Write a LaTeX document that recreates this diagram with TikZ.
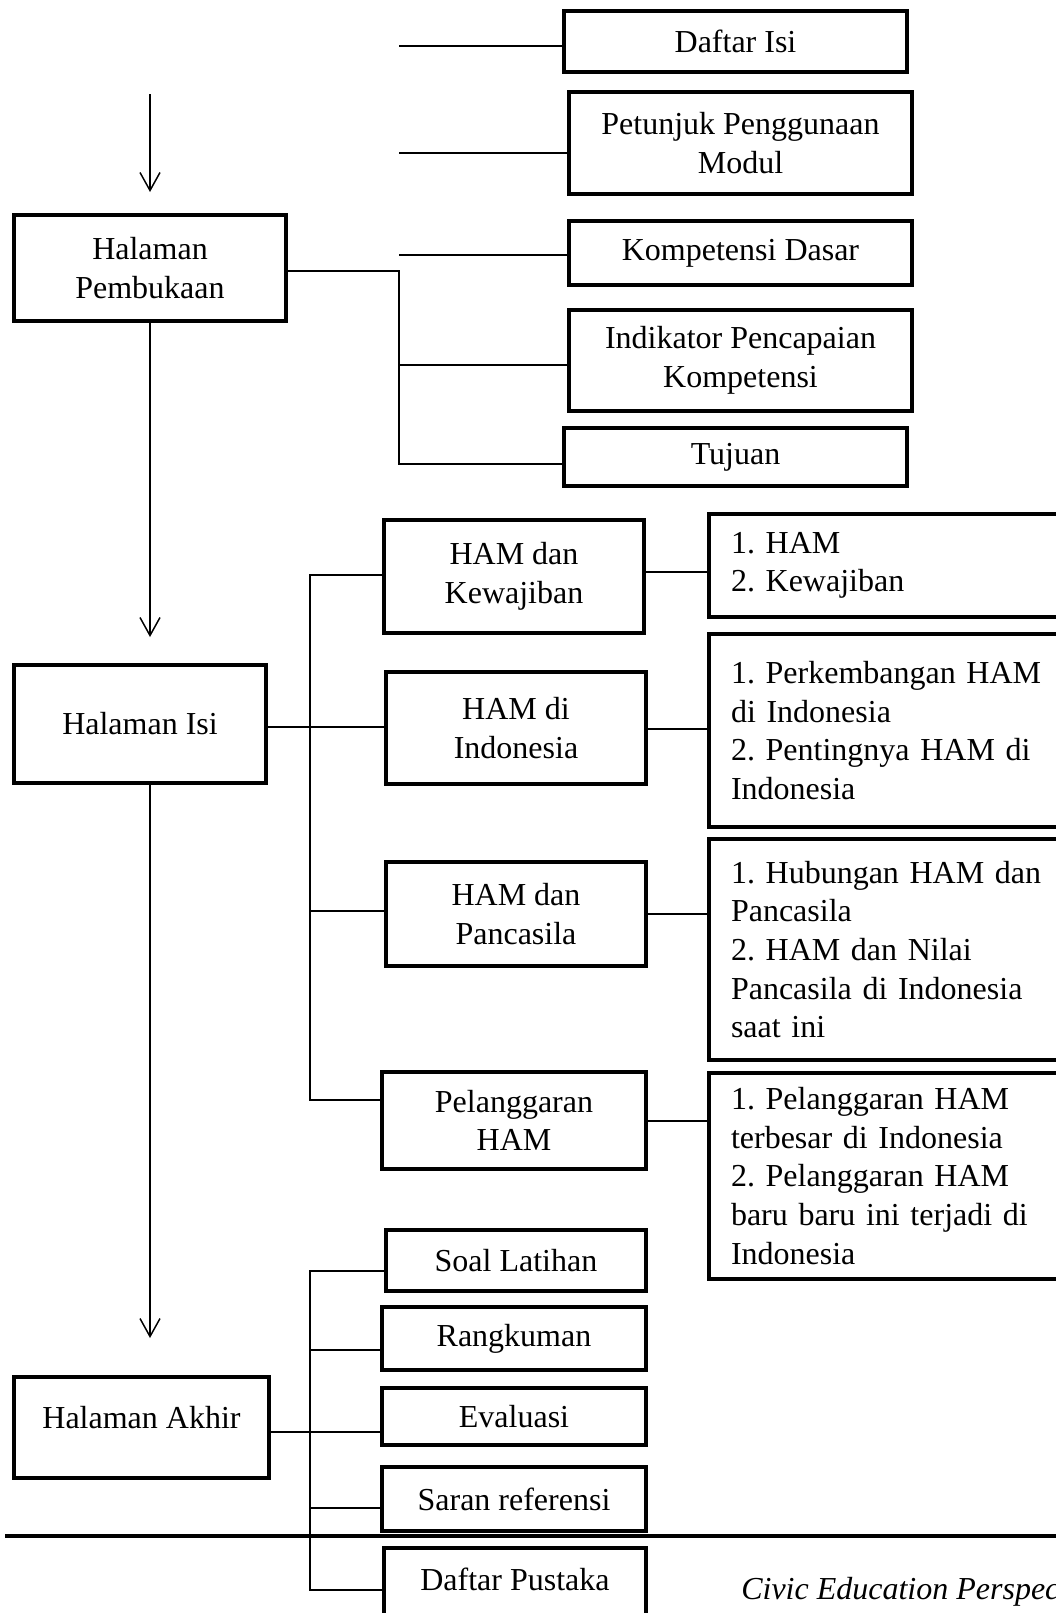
\documentclass[tikz,border=0pt]{standalone}
\usepackage{fontspec}
\setmainfont{Liberation Serif}
\usetikzlibrary{arrows.meta}
\begin{document}
\frenchspacing
\begin{tikzpicture}[x=0.75pt,y=-0.75pt,
  txt/.style={font=\fontsize{24pt}{29pt}\selectfont\frenchspacing},
  box/.style={txt, draw, line width=3pt, align=center, inner sep=0pt},
  sz/.style 2 args={minimum width=#1*0.75pt, minimum height=#2*0.75pt},
  lst/.style={txt, draw, line width=3pt, align=left, anchor=west, inner xsep=16.5pt, inner ysep=0pt, text width=243pt},
  conn/.style={line width=1.1pt},
  arr/.style={conn, -{Straight Barb[length=13.5pt,width=15pt]}}]
\clip (0,0) rectangle (1056,1613);
\fill[white] (0,0) rectangle (1056,1613);

% top group
\node[box, sz={343}{61}]  (daftar) at (735.5,41.5) {Daftar Isi};
\node[box, sz={343}{102}] (petunjuk) at (740.5,143) {Petunjuk Penggunaan\\Modul};
\node[box, sz={343}{64}]  (kd) at (740.5,253) {Kompetensi Dasar};
\node[box, sz={343}{101}] (indikator) at (740.5,360.5) {Indikator Pencapaian\\Kompetensi};
\node[box, sz={343}{58}]  (tujuan) at (735.5,457) {Tujuan};

% main column
\node[box, sz={272}{106}] (pemb) at (150,268) {Halaman\\Pembukaan};
\node[box, sz={252}{118}] (isi) at (140,724) {Halaman Isi};
\node[box, sz={255}{101}] (akhir) at (141.5,1427.5) {\raisebox{15pt}{Halaman Akhir}};

% isi group
\node[box, sz={260}{113}] (kew) at (514,576.5) {HAM dan\\Kewajiban};
\node[box, sz={260}{112}] (indo) at (516,728) {HAM di\\Indonesia};
\node[box, sz={260}{104}] (panc) at (516,914) {HAM dan\\Pancasila};
\node[box, sz={264}{97}]  (pel) at (514,1120.5) {Pelanggaran\\HAM};

\node[lst, minimum height=103*0.75pt] (l1) at (707,565.5) {1. HAM\\2. Kewajiban};
\node[lst, minimum height=193*0.75pt] (l2) at (707,730.5) {1. Perkembangan HAM\\di Indonesia\\2. Pentingnya HAM di\\Indonesia};
\node[lst, minimum height=221*0.75pt] (l3) at (707,949.5) {1. Hubungan HAM dan\\Pancasila\\2. HAM dan Nilai\\Pancasila di Indonesia\\saat ini};
\node[lst, minimum height=206*0.75pt] (l4) at (707,1176) {1. Pelanggaran HAM\\terbesar di Indonesia\\2. Pelanggaran HAM\\baru baru ini terjadi di\\Indonesia};

% akhir group
\node[box, sz={260}{61}] (soal) at (516,1260.5) {Soal Latihan};
\node[box, sz={264}{63}] (rangk) at (514,1338.5) {Rangkuman};
\node[box, sz={264}{57}] (eval) at (514,1416.5) {Evaluasi};
\node[box, sz={264}{64}] (saran) at (514,1499) {Saran referensi};
\node[box, sz={262}{80}] (pustaka) at (515,1588) {\raisebox{13pt}{Daftar Pustaka}};

\node[txt, anchor=west, inner sep=0pt] (civic) at (741,1592) {\itshape Civic Education Perspective};

% stubs top
\coordinate (a1) at (399,46);
\coordinate (a2) at (399,153);
\coordinate (a3) at (399,255);
\draw[conn] (a1) -- (daftar.west |- a1);
\draw[conn] (a2) -- (petunjuk.west |- a2);
\draw[conn] (a3) -- (kd.west |- a3);

% pembukaan
\coordinate (p1) at (399,271);
\coordinate (p2) at (399,365);
\coordinate (p3) at (399,464);
\draw[conn] (pemb.east |- p1) -- (p1) -- (p3) -- (tujuan.west |- p3);
\draw[conn] (p2) -- (indikator.west |- p2);

% isi
\coordinate (i1) at (310,575);
\coordinate (i2) at (310,727);
\coordinate (i3) at (310,911);
\coordinate (i4) at (310,1100);
\draw[conn] (isi.east |- i2) -- (indo.west |- i2);
\draw[conn] (kew.west |- i1) -- (i1) -- (i4) -- (pel.west |- i4);
\draw[conn] (i3) -- (panc.west |- i3);

\coordinate (r1) at (676,572);
\coordinate (r2) at (676,729);
\coordinate (r3) at (676,914);
\coordinate (r4) at (676,1121);
\draw[conn] (kew.east |- r1) -- (l1.west |- r1);
\draw[conn] (indo.east |- r2) -- (l2.west |- r2);
\draw[conn] (panc.east |- r3) -- (l3.west |- r3);
\draw[conn] (pel.east |- r4) -- (l4.west |- r4);

% akhir
\coordinate (k1) at (310,1271);
\coordinate (k2) at (310,1350);
\coordinate (k3) at (310,1432);
\coordinate (k4) at (310,1508);
\coordinate (k5) at (310,1590);
\draw[conn] (soal.west |- k1) -- (k1) -- (k5) -- (pustaka.west |- k5);
\draw[conn] (k2) -- (rangk.west |- k2);
\draw[conn] (akhir.east |- k3) -- (eval.west |- k3);
\draw[conn] (k4) -- (saran.west |- k4);

% arrows
\coordinate (s0) at (150,94);
\coordinate (t0) at (150,192);
\coordinate (t1) at (150,637);
\coordinate (t2) at (150,1338);
\draw[arr] (s0) -- (t0);
\draw[arr] (pemb.south) -- (t1);
\draw[arr] (isi.south -| t2) -- (t2);

% rule
\coordinate (h1) at (5,1536);
\coordinate (h2) at (1060,1536);
\draw[line width=2.5pt] (h1) -- (h2);
\end{tikzpicture}
\end{document}
